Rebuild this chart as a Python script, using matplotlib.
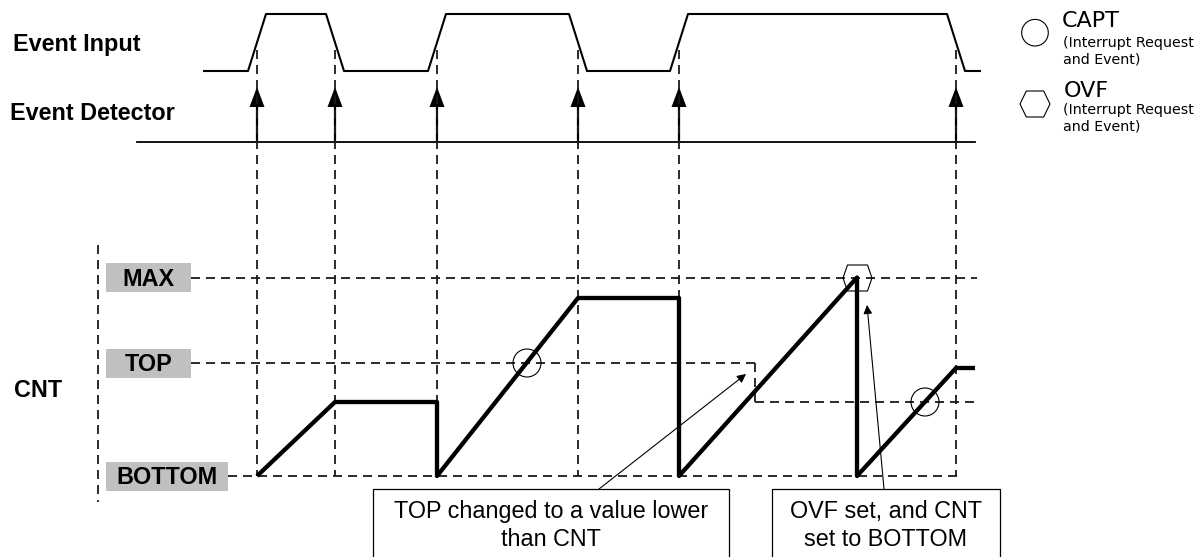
import matplotlib
matplotlib.use('Agg')
import matplotlib.pyplot as plt
from matplotlib.patches import Rectangle, Circle, Polygon

# Моменты событий (пиксели по оси x) и состояние входа после каждого фронта
event_times = [257, 335, 437, 578, 679, 956]
input_after_edge = [1, 0, 1, 0, 1, 0]

# Уровни счётчика
level_names = ['MAX', 'TOP', 'BOTTOM']
level_y = [277.5, 363, 476]
new_top_y = 402
top_change_x = 755

# Форма сигнала CNT
cnt_x = [257, 335, 437, 437, 578, 679, 679, 857, 857, 956, 975]
cnt_y = [476, 402, 402, 476, 298, 298, 476, 277.5, 476, 368, 368]

# Маркеры прерываний
capt_points = [(527, 363), (925, 402)]
ovf_points = [(857.5, 278)]

# Подписи-выноски: текст, рамка, начало и конец стрелки
notes = [
    ('TOP changed to a value lower\nthan CNT', (373, 729), (599, 489), (746, 374)),
    ('OVF set, and CNT\nset to BOTTOM', (772, 1000), (884, 489), (867, 305)),
]

plt.rcParams['lines.scale_dashes'] = False
DASH = (0, (6.5, 4.3))
DCOL = '#1a1a1a'
DLW = 1.3

fig = plt.figure(figsize=(11.97, 5.57), dpi=100)
ax = fig.add_axes([0, 0, 1, 1])
ax.set_xlim(0, 1197)
ax.set_ylim(557, 0)
ax.axis('off')

bold = dict(family='Liberation Sans', fontweight='bold', fontsize=16.8)

# Подписи строк
ax.text(12.7, 50.7, 'Event Input', va='baseline', **bold)
ax.text(10, 120, 'Event Detector', va='baseline', **bold)
ax.text(14, 397, 'CNT', va='baseline', **bold)

# Входной сигнал
LOW, HIGH = 71, 14
xs, ys = [204], [LOW]
state = 0
for t, s in zip(event_times, input_after_edge):
    xs += [t - 9, t + 9]
    ys += [HIGH if state else LOW, HIGH if s else LOW]
    state = s
xs.append(980)
ys.append(HIGH if state else LOW)
ax.plot(xs, ys, color='black', lw=1.5, solid_joinstyle='round')

# Детектор событий: базовая линия и стрелки
ax.plot([137, 975], [142, 142], color='black', lw=1.3)
for t in event_times:
    ax.plot([t, t], [142, 105], color='black', lw=1.6)
    ax.add_patch(Polygon([(t - 7.5, 107), (t + 7.5, 107), (t, 87)],
                         closed=True, color='black', lw=0))

# Вертикальные пунктиры от событий
for t in event_times:
    ax.plot([t, t], [50, 476], color=DCOL, lw=DLW, ls=DASH)

# Левая ось CNT
ax.plot([97.7, 97.7], [245, 502], color=DCOL, lw=DLW, ls=DASH)

# Горизонтальные уровни
ax.plot([191, 977], [level_y[0], level_y[0]], color=DCOL, lw=DLW, ls=DASH)
ax.plot([191, top_change_x], [level_y[1], level_y[1]],
        color=DCOL, lw=DLW, ls=DASH)
ax.plot([top_change_x, top_change_x], [level_y[1], new_top_y],
        color=DCOL, lw=DLW, ls=DASH)
ax.plot([top_change_x, 975], [new_top_y, new_top_y],
        color=DCOL, lw=DLW, ls=DASH)
ax.plot([228, 960], [level_y[2], level_y[2]], color=DCOL, lw=DLW, ls=DASH)

# Серые плашки уровней
box_right = {'MAX': 191, 'TOP': 191, 'BOTTOM': 228}
for name, y in zip(level_names, level_y):
    left = 105.5
    right = box_right[name]
    ax.add_patch(Rectangle((left, y - 14.5), right - left, 29,
                           color='#c0c0c0', lw=0, zorder=2))
    ax.text((left + right) / 2, y + 8, name, ha='center', va='baseline',
            zorder=3, **bold)

# Сигнал CNT
ax.plot(cnt_x, cnt_y, color='black', lw=3.1, solid_joinstyle='round',
        solid_capstyle='butt', zorder=4)


def hexagon(cx, cy, w, h, top):
    return Polygon([(cx - w / 2, cy), (cx - top, cy - h / 2),
                    (cx + top, cy - h / 2), (cx + w / 2, cy),
                    (cx + top, cy + h / 2), (cx - top, cy + h / 2)],
                   closed=True, fill=False, ec='black', lw=0.8, zorder=5)


for cx, cy in capt_points:
    ax.add_patch(Circle((cx, cy), 14, fill=False, ec='black', lw=0.8, zorder=5))
for cx, cy in ovf_points:
    ax.add_patch(hexagon(cx, cy, 29, 26, 10))

# Выноски
for text, (bl, br), start, end in notes:
    ax.add_patch(Rectangle((bl, 489), br - bl, 80, fill=False,
                           ec='black', lw=0.9, zorder=5))
    line1, line2 = text.split('\n')
    cx = (bl + br) / 2
    for line, base in ((line1, 518), (line2, 546)):
        ax.text(cx, base, line, ha='center', va='baseline',
                family='Liberation Sans', fontsize=16.8)
    ax.annotate('', xy=end, xytext=start,
                arrowprops=dict(arrowstyle='-|>', color='black', lw=0.8,
                                mutation_scale=13, shrinkA=0, shrinkB=0))

# Легенда
ax.add_patch(Circle((1035, 32.7), 13.3, fill=False, ec='black', lw=0.8))
ax.add_patch(hexagon(1035, 104, 30, 26, 8.7))
legend_font = dict(family='DejaVu Sans', va='baseline')
ax.text(1062, 27.3, 'CAPT', fontsize=16, **legend_font)
ax.text(1063, 46.5, '(Interrupt Request', fontsize=10.3, **legend_font)
ax.text(1063, 63.5, 'and Event)', fontsize=10.3, **legend_font)
ax.text(1064, 97.3, 'OVF', fontsize=16, **legend_font)
ax.text(1063, 114, '(Interrupt Request', fontsize=10.3, **legend_font)
ax.text(1063, 131, 'and Event)', fontsize=10.3, **legend_font)

fig.savefig('out.png', dpi=100)
plt.close(fig)
